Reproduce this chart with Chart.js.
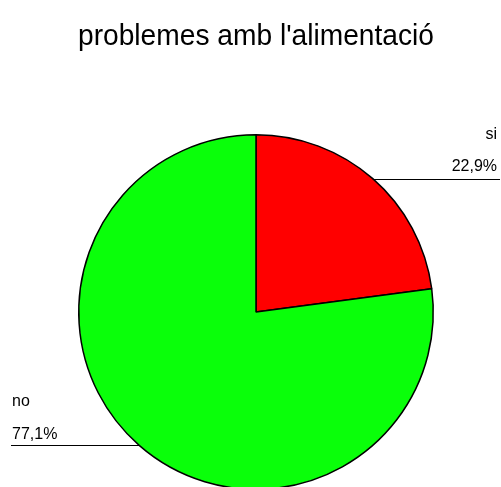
<!DOCTYPE html>
<html><head><meta charset="utf-8">
<script src="https://cdn.jsdelivr.net/npm/chart.js@4/dist/chart.umd.min.js"></script>
<style>html,body{margin:0;padding:0;background:#fff;overflow:hidden}</style>
</head><body>
<canvas id="c" width="501" height="510" style="display:block;width:501px;height:510px"></canvas>
<script>
const chartTitle = "problemes amb l'alimentació";
const categories = ["si", "no"];
const percentages = [22.9, 77.1];
const valueLabels = ["22,9%", "77,1%"];

const labelFont = "16px 'Liberation Sans', Arial, sans-serif";

const leaderPlugin = {
  id: 'leaders',
  afterDatasetsDraw(chart) {
    const ctx = chart.ctx;
    const meta = chart.getDatasetMeta(0);
    ctx.save();
    ctx.font = labelFont;
    ctx.fillStyle = '#000';
    ctx.strokeStyle = '#000';
    ctx.lineWidth = 1;
    meta.data.forEach((arc, i) => {
      const p = arc.getProps(['x','y','startAngle','endAngle','outerRadius'], true);
      const mid = (p.startAngle + p.endAngle) / 2;
      const ex = p.x + Math.cos(mid) * p.outerRadius;
      const ey = Math.round(p.y + Math.sin(mid) * p.outerRadius) + 0.5;
      ctx.beginPath();
      if (ex > p.x) {
        ctx.moveTo(ex, ey); ctx.lineTo(500, ey); ctx.stroke();
        ctx.textAlign = 'right'; ctx.textBaseline = 'alphabetic';
        ctx.fillText(valueLabels[i], 497, ey - 9);
        ctx.fillText(categories[i], 497, ey - 41);
      } else {
        ctx.moveTo(11, ey); ctx.lineTo(ex, ey); ctx.stroke();
        ctx.textAlign = 'left'; ctx.textBaseline = 'alphabetic';
        ctx.fillText(valueLabels[i], 12, ey - 7);
        ctx.fillText(categories[i], 12, ey - 40);
      }
    });
    ctx.restore();
  }
};

new Chart(document.getElementById('c'), {
  type: 'pie',
  data: {
    labels: categories,
    datasets: [{
      data: percentages,
      backgroundColor: ['#ff0000', '#0aff0a'],
      borderColor: '#000000',
      borderWidth: 1.5
    }]
  },
  options: {
    responsive: false,
    animation: false,
    events: [],
    layout: { padding: { left: 78, right: 67, top: 0, bottom: 20 } },
    plugins: {
      legend: { display: false },
      tooltip: { enabled: false },
      title: {
        display: true,
        text: chartTitle,
        color: '#000',
        font: { family: "'Liberation Sans', Arial, sans-serif", size: 30, weight: 'normal', lineHeight: 1.2 },
        padding: { top: 18.6, bottom: 79.4 }
      }
    }
  },
  plugins: [leaderPlugin]
});
</script>
</body></html>
